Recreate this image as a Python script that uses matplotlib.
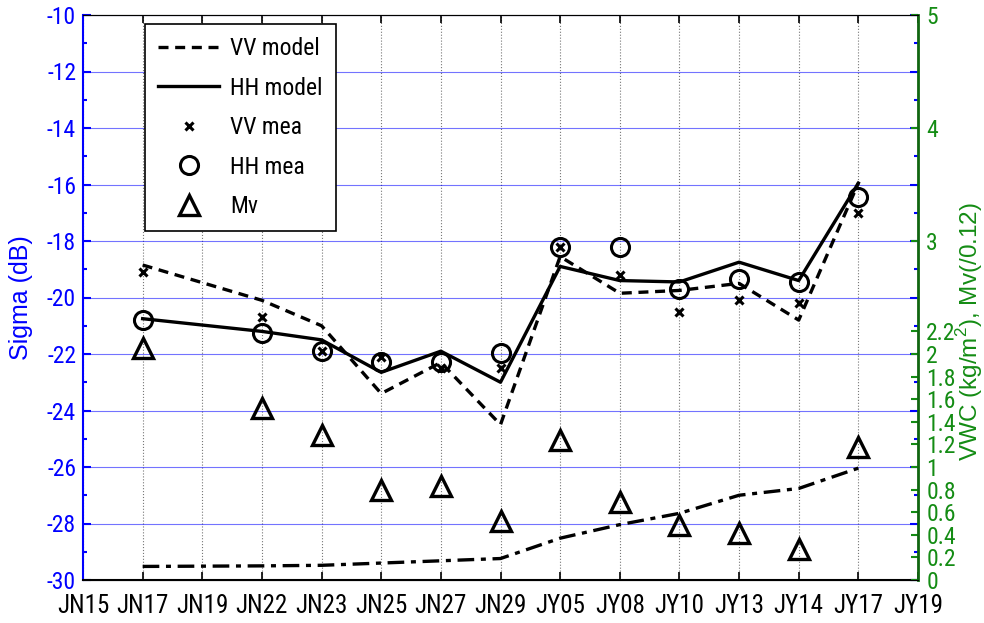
import matplotlib
matplotlib.use('Agg')
import matplotlib.pyplot as plt
import numpy as np
from matplotlib.ticker import MultipleLocator

# x categories (tick labels) and the dates that have data
ticks = ['JN15', 'JN17', 'JN19', 'JN22', 'JN23', 'JN25', 'JN27', 'JN29',
         'JY05', 'JY08', 'JY10', 'JY13', 'JY14', 'JY17', 'JY19']
dates = ['JN17', 'JN22', 'JN23', 'JN25', 'JN27', 'JN29',
         'JY05', 'JY08', 'JY10', 'JY13', 'JY14', 'JY17']

vv_model = [-18.85, -20.1, -21.0, -23.4, -22.3, -24.5, -18.55, -19.85, -19.75, -19.5, -20.8, -15.95]
hh_model = [-20.75, -21.2, -21.5, -22.65, -21.9, -23.0, -18.9, -19.4, -19.45, -18.75, -19.4, -15.95]
vv_mea = [-19.1, -20.7, -21.9, -22.1, -22.5, -22.5, -18.2, -19.2, -20.5, -20.1, -20.2, -17.0]
hh_mea = [-20.8, -21.25, -21.9, -22.3, -22.3, -21.95, -18.2, -18.2, -19.7, -19.35, -19.45, -16.45]
mv = [2.05, 1.52, 1.28, 0.80, 0.83, 0.52, 1.24, 0.69, 0.49, 0.42, 0.27, 1.18]
vwc = [0.12, 0.125, 0.13, 0.15, 0.17, 0.19, 0.37, 0.49, 0.59, 0.75, 0.81, 0.99]

right_ticks = [0, 0.2, 0.4, 0.6, 0.8, 1, 1.2, 1.4, 1.6, 1.8, 2, 2.2, 3, 4, 5]
right_labels = ['0', '0.2', '0.4', '0.6', '0.8', '1', '1.2', '1.4', '1.6', '1.8', '2', '2.2', '3', '4', '5']

narrow = ['Roboto Condensed', 'Liberation Sans', 'DejaVu Sans']
plt.rcParams['font.family'] = ['Liberation Sans', 'DejaVu Sans']
plt.rcParams['axes.unicode_minus'] = False
plt.rcParams['mathtext.fontset'] = 'custom'
plt.rcParams['mathtext.rm'] = 'Liberation Sans'

blue = '#0000ff'
green = '#148c14'

x = np.array([ticks.index(d) for d in dates])

fig = plt.figure(figsize=(9.84, 6.23), dpi=100)
ax = fig.add_axes([83/984, 1 - 580/623, 835/984, 565/623])
ax2 = ax.twinx()

l1, = ax.plot(x, vv_model, 'k--', lw=2.4, dashes=(3, 2), label='VV model')
l2, = ax.plot(x, hh_model, 'k-', lw=2.4, label='HH model')
l3, = ax.plot(x, vv_mea, 'kx', ms=6, mew=2.2, label='VV mea')
l4, = ax.plot(x, hh_mea, 'ko', ms=13, mfc='none', mew=2.2, label='HH mea')
l5, = ax2.plot(x, mv, 'k^', ms=14, mfc='none', mew=2.4, label='Mv')
ax2.plot(x, vwc, 'k-.', lw=2.4, dashes=(5, 2, 1.5, 2))

ax.set_xlim(0, len(ticks) - 1)
ax.set_ylim(-30, -10)
ax2.set_ylim(0, 5)

ax.set_xticks(range(len(ticks)))
ax.set_xticklabels(ticks, family=narrow, fontsize=18)
ax.yaxis.set_major_locator(MultipleLocator(2))
ax.yaxis.set_minor_locator(MultipleLocator(1))
for t in ax.get_yticklabels():
    t.set_family(narrow)
    t.set_fontsize(17)
ax.tick_params(axis='x', direction='in', top=True, length=6, width=1.2, pad=10)
ax.tick_params(axis='y', which='both', direction='in', left=True, right=True,
               colors=blue, labelcolor=blue, width=1.5)
ax.tick_params(axis='y', which='major', length=6, pad=5)
ax.tick_params(axis='y', which='minor', length=3)

ax2.set_yticks(right_ticks)
ax2.set_yticklabels(right_labels, family=narrow, fontsize=17)
ax2.tick_params(axis='y', direction='in', colors=green, labelcolor=green,
                length=5, width=1.5, pad=6)

ax.grid(axis='y', color=blue, lw=0.8, alpha=0.55)
ax.grid(axis='x', color='#777777', lw=0.8, ls=':')
ax.set_axisbelow(True)

ax.spines['left'].set_color(blue)
ax.spines['left'].set_linewidth(1.5)
ax.spines['bottom'].set_linewidth(1.5)
ax2.spines['right'].set_color('#116611')
ax2.spines['right'].set_linewidth(2)
ax2.spines['left'].set_visible(False)

ax.set_ylabel('Sigma (dB)', color=blue, fontsize=18)
ax.yaxis.set_label_coords(-0.06, 0.5)
ax2.set_ylabel('VWC (kg/m$^2$), Mv(/0.12)', color=green, fontsize=17.5)
ax2.yaxis.set_label_coords(1.043, 0.44)

leg = ax2.legend(handles=[l1, l2, l3, l4, l5], loc='upper left',
                 bbox_to_anchor=(0.0743, 0.984), borderaxespad=0,
                 fancybox=False, framealpha=1, edgecolor='black',
                 prop={'family': narrow, 'size': 17},
                 handlelength=2.6, handletextpad=0.45, labelspacing=0.7,
                 borderpad=0.55)
leg.get_frame().set_linewidth(1.2)

fig.savefig('out.png', dpi=100)
